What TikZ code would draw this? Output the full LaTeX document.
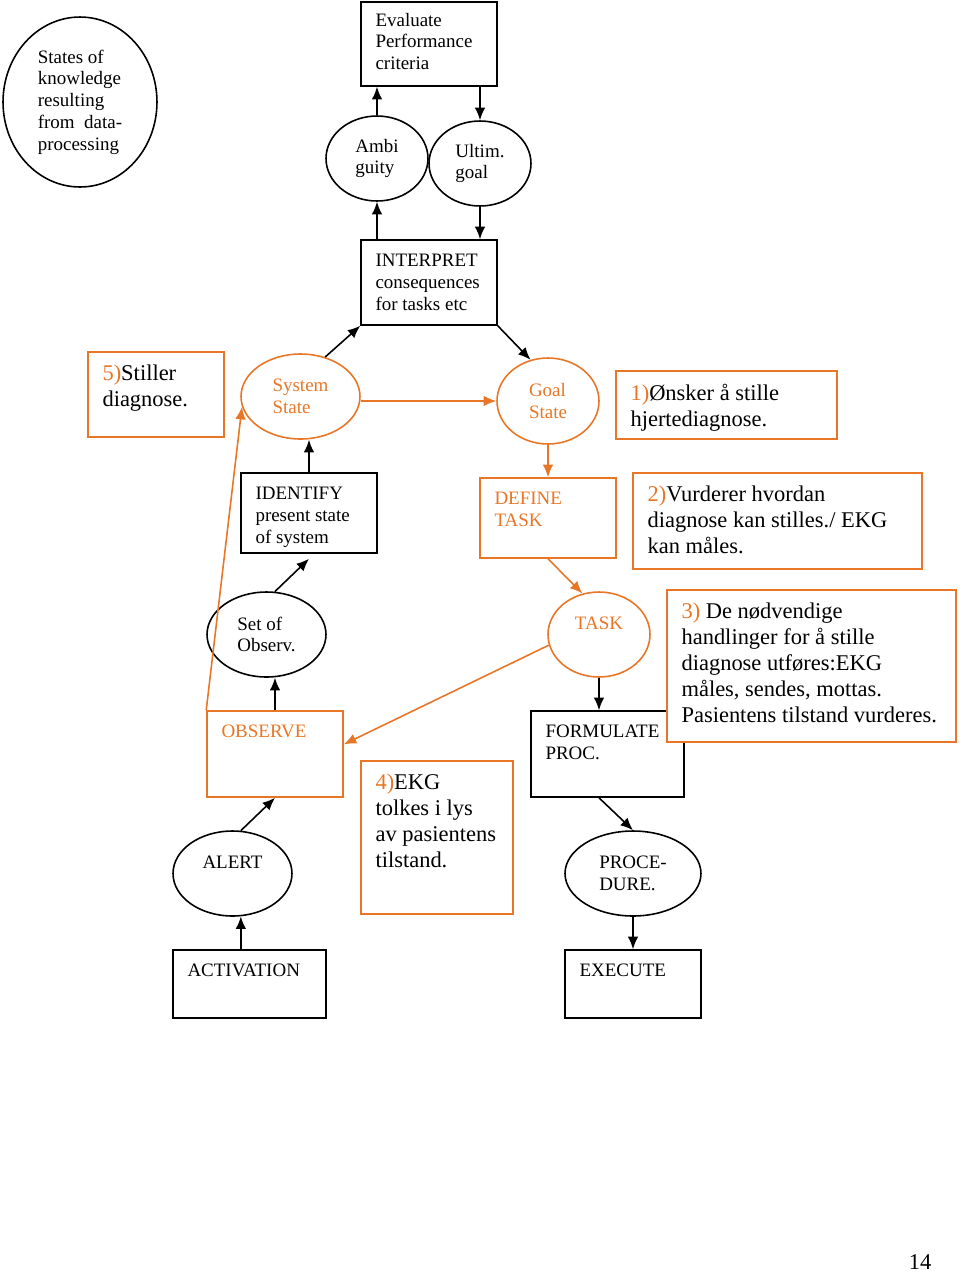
\documentclass[tikz,border=0pt]{standalone}
\usepackage{fontspec}
\setmainfont{Liberation Serif}
\usepackage{tikz}
\usetikzlibrary{arrows.meta,shapes.geometric}
\definecolor{ekgorange}{RGB}{232,118,38}
\newcommand{\smalltxt}{\fontsize{10.8}{12.4}\selectfont}
\newcommand{\bigtxt}{\fontsize{12.8}{14.8}\selectfont}
\newcommand{\nr}[1]{\textcolor{ekgorange}{#1}}

\begin{document}
\begin{tikzpicture}[->,>={Latex[length=2.5mm,width=2.1mm]},line width=0.9pt,x=0.02cm,y=-0.02cm,
  plain state/.style={ellipse,draw,inner sep=0pt,align=left,font=\smalltxt},
  orange state/.style={plain state,draw=ekgorange,text=ekgorange},
  plain box/.style={rectangle,draw,inner sep=0pt},
  orange box/.style={plain box,draw=ekgorange,fill=white},
  box text/.style={anchor=north west,xshift=0.29cm,yshift=-0.28cm,inner sep=0pt,align=left,font=\smalltxt,text=black},
  orange text/.style={box text,text=ekgorange},
  note text/.style={box text,yshift=0.02cm,font=\bigtxt}]

  \useasboundingbox (0,0) rectangle (960,1272);

  % upper loop
  \node[plain state,minimum width=3.08cm,minimum height=3.4cm] (knowledge) at (80,102)
    {States of\\knowledge\\resulting\\from~~data-\\processing};
  \node[plain box,minimum width=2.72cm,minimum height=1.68cm,
    label={[box text,yshift=0.06cm]north west:{Evaluate\\Performance\\criteria}}] (evaluate) at (429,44) {};
  \node[plain state,minimum width=2.04cm,minimum height=1.7cm] (ambi) at (377,158.5) {Ambi\\guity};
  \node[plain state,minimum width=2.04cm,minimum height=1.7cm] (ultim) at (480,163.5) {Ultim.\\goal};
  \node[plain box,minimum width=2.72cm,minimum height=1.7cm,
    label={[box text]north west:{INTERPRET\\consequences\\for tasks etc}}] (interpret) at (429,282.5) {};

  % states
  \node[orange box,minimum width=2.72cm,minimum height=1.7cm,
    label={[note text]north west:{\nr{5)}Stiller\\diagnose.}}] (stiller) at (156,394.5) {};
  \node[orange state,minimum width=2.38cm,minimum height=1.7cm] (sysstate) at (300.5,396.5) {System\\State};
  \node[orange state,minimum width=2.04cm,minimum height=1.72cm] (goal) at (548,401) {Goal\\State\hspace{10pt}};
  \node[orange box,minimum width=4.42cm,minimum height=1.36cm,
    label={[note text]north west:{\nr{1)}Ønsker å stille\\hjertediagnose.}}] (onsker) at (726.5,405) {};

  \node[plain box,minimum width=2.72cm,minimum height=1.6cm,
    label={[box text]north west:{IDENTIFY\\present state\\of system}}] (identify) at (309,513) {};
  \node[orange box,minimum width=2.72cm,minimum height=1.6cm,
    label={[orange text]north west:{DEFINE\\TASK}}] (define) at (548,518) {};
  \node[orange box,minimum width=5.78cm,minimum height=1.92cm,
    label={[note text]north west:{\nr{2)}Vurderer hvordan\\diagnose kan stilles./ EKG\\kan måles.}}] (vurderer) at (777.5,521) {};

  \node[plain state,minimum width=2.38cm,minimum height=1.7cm] (setobs) at (266.5,634.5) {Set of\\Observ.};
  \node[orange state,minimum width=2.04cm,minimum height=1.7cm] (task) at (599,634.5) {TASK\\\mbox{}};

  \node[orange box,minimum width=2.72cm,minimum height=1.72cm,
    label={[orange text]north west:{OBSERVE}}] (observe) at (275,754) {};
  \node[plain box,minimum width=3.06cm,minimum height=1.72cm,
    label={[box text]north west:{FORMULATE\\PROC.}}] (formulate) at (607.5,754) {};
  \node[orange box,minimum width=5.78cm,minimum height=3.04cm,
    label={[note text]north west:{\nr{3)} De nødvendige\\handlinger for å stille\\diagnose utføres:EKG\\måles, sendes, mottas.\\Pasientens tilstand vurderes.}}] (handlinger) at (811.5,666) {};
  \node[orange box,minimum width=3.04cm,minimum height=3.06cm,
    label={[note text]north west:{\nr{4)}EKG\\tolkes i lys\\av pasientens\\tilstand.}}] (tolkes) at (437,837.5) {};

  % lower part
  \node[plain state,minimum width=2.38cm,minimum height=1.7cm] (alert) at (232.5,873.5) {ALERT\\\mbox{}};
  \node[plain state,minimum width=2.72cm,minimum height=1.7cm] (proc) at (633,873.5) {PROCE-\\DURE.};
  \node[plain box,minimum width=3.06cm,minimum height=1.36cm,
    label={[box text]north west:{ACTIVATION}}] (activation) at (249.5,984) {};
  \node[plain box,minimum width=2.72cm,minimum height=1.36cm,
    label={[box text]north west:{EXECUTE}}] (execute) at (633,984) {};

  \node[font=\bigtxt] (pagenum) at (920,1262) {14};

  % black arrows
  \path (ambi.north) edge (ambi.north |- evaluate.south)
        (ultim.north |- evaluate.south) edge (ultim.north)
        (ambi.south |- interpret.north) edge (ambi.south)
        (ultim.south) edge (ultim.south |- interpret.north)
        (sysstate.58) edge (interpret.south west)
        (interpret.south east) edge (goal.113)
        (identify.north) edge (identify.north |- sysstate.south)
        (setobs.79) edge ([yshift=-0.1cm]identify.south)
        (observe.north) edge (observe.north |- setobs.south)
        (alert.79) edge (observe.south)
        (alert.281 |- activation.north) edge (alert.281)
        (task.south) edge (task.south |- formulate.north)
        (task.south |- formulate.south) edge (proc.north)
        (proc.south) edge (execute.north);

  % orange arrows
  \path (goal.west -| sysstate.east) edge[ekgorange] (goal.west)
        (goal.south) edge[ekgorange] (define.north)
        (define.south) edge[ekgorange] (task.112)
        (task.192) edge[ekgorange] (observe.8)
        (observe.north west) edge[ekgorange] (sysstate.190);
\end{tikzpicture}
\end{document}
